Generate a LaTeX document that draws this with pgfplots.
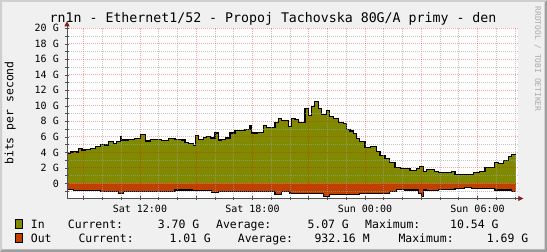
\documentclass[border=0pt]{standalone}
\usepackage{pgfplots}
\usepackage{pgfplotstable}
\pgfplotsset{compat=1.18}
\usepackage{fontspec}
\newfontfamily\dvm{DejaVu Sans Mono}
\usetikzlibrary{arrows.meta}

\definecolor{bgc}{HTML}{F0F0F0}
\definecolor{shadea}{HTML}{CFCFCF}
\definecolor{shadeb}{HTML}{9E9E9E}
\definecolor{incol}{RGB}{128,138,0}
\definecolor{outcol}{RGB}{192,64,0}
\definecolor{axcol}{RGB}{80,80,80}
\definecolor{arrcol}{RGB}{127,31,31}
\definecolor{mingrid}{RGB}{160,160,160}
\definecolor{wmark}{RGB}{170,170,170}

% In traffic (Gbit/s), hours since Sat 00:00
\pgfplotstableread{
h v
8.11 3.90
8.30 4.05
8.46 4.15
8.60 4.05
8.73 4.50
8.91 4.30
9.08 4.40
9.35 4.45
9.62 4.70
9.88 5.00
10.10 4.95
10.33 5.37
10.60 5.16
10.77 5.37
10.95 6.00
11.04 5.60
11.40 5.70
11.70 5.75
12.02 6.30
12.28 5.46
12.55 5.70
12.85 5.65
13.17 5.50
13.53 5.80
13.87 5.70
14.22 5.60
14.40 5.25
14.60 5.15
14.84 4.94
14.97 6.20
15.11 5.70
15.38 5.90
15.55 6.00
15.75 5.85
16.00 6.50
16.18 5.60
16.36 5.70
16.55 5.85
16.80 6.50
17.07 6.80
17.35 6.85
17.60 6.90
17.87 7.40
17.96 6.50
18.25 6.60
18.58 7.50
18.76 7.20
19.20 7.80
19.38 8.40
19.56 8.10
19.91 7.30
20.09 8.40
20.27 8.20
20.44 7.90
20.80 9.70
20.98 8.80
21.16 9.90
21.33 10.54
21.51 9.70
21.69 8.90
21.96 9.40
22.13 8.60
22.31 8.40
22.58 7.90
22.84 7.70
23.02 7.00
23.20 6.75
23.38 6.45
23.56 5.80
23.73 5.37
24.00 4.64
24.30 4.70
24.62 4.08
24.80 3.65
25.07 3.20
25.33 2.66
25.60 2.06
25.87 1.97
26.40 1.63
26.76 1.94
26.93 2.14
27.11 1.50
27.29 1.80
27.73 1.50
27.91 1.42
28.62 1.50
28.80 1.20
29.42 1.17
29.78 1.37
30.13 1.50
30.40 2.06
30.93 2.70
31.11 2.58
31.38 2.90
31.64 3.43
31.82 3.70
32.04 3.70
}\intab

% Out traffic (Gbit/s, drawn negative)
\pgfplotstableread{
h v
8.11 -0.77
8.46 -0.95
9.88 -1.08
10.40 -1.02
10.86 -1.29
11.13 -1.10
11.89 -1.05
12.46 -1.00
13.00 -1.05
13.87 -0.86
14.80 -0.90
15.82 -1.20
16.18 -1.00
17.00 -1.05
18.00 -1.00
19.20 -1.38
19.56 -1.10
20.00 -1.29
21.00 -1.25
21.78 -1.69
22.13 -1.38
23.20 -1.40
23.73 -1.29
24.50 -1.30
25.33 -1.08
25.69 -0.77
26.13 -0.86
26.84 -1.29
27.02 -1.69
27.11 -0.86
27.29 -0.90
27.91 -0.77
28.80 -0.65
29.33 -0.52
29.69 -0.65
30.93 -0.86
31.82 -1.08
32.04 -1.01
}\outtab

\begin{document}
\begin{tikzpicture}
\path[use as bounding box] (0,0) rectangle (547bp,252bp);
\fill[bgc] (0,0) rectangle (547bp,252bp);
\fill[shadea] (0,0) -- (0,252bp) -- (547bp,252bp) -- (545bp,250bp) -- (2bp,250bp) -- (2bp,2bp) -- cycle;
\fill[shadeb] (0,0) -- (547bp,0) -- (547bp,252bp) -- (544.5bp,249.5bp) -- (544.5bp,2.5bp) -- (2bp,2.5bp) -- cycle;
\fill[white] (67bp,53.5bp) rectangle (518bp,223.7bp);

\begin{axis}[
  at={(67bp,53.5bp)}, anchor=south west,
  scale only axis, width=451bp, height=170.2bp,
  xmin=8.11, xmax=32.16, ymin=-1.95, ymax=20,
  axis x line*=bottom, axis y line*=left,
  x axis line style={draw=axcol, line width=0.8bp, shorten >=-5.3bp,
    -{Triangle[length=5bp,width=5bp,color=arrcol,fill=arrcol]}},
  y axis line style={draw=axcol, line width=0.8bp, shorten >=-7bp,
    -{Triangle[length=5bp,width=5bp,color=arrcol,fill=arrcol]}},
  axis on top,
  xtick={9,12,15,18,21,24,27,30},
  xticklabels={,Sat 12:00,,Sat 18:00,,Sun 00:00,,Sun 06:00},
  minor xtick={10,11,13,14,16,17,19,20,22,23,25,26,28,29,31,32},
  ytick={0,2,4,6,8,10,12,14,16,18,20},
  yticklabels={0,2 G,4 G,6 G,8 G,10 G,12 G,14 G,16 G,18 G,20 G},
  minor ytick={-1,1,3,5,7,9,11,13,15,17,19},
  grid=both,
  major grid style={draw=red, opacity=0.35, dash pattern=on 1bp off 1bp, line width=0.8bp},
  minor grid style={draw=mingrid, opacity=0.6, dash pattern=on 1bp off 1bp, line width=0.8bp},
  tick align=center,
  major tick length=4bp, minor tick length=3bp,
  every tick/.style={draw=axcol, line width=0.6bp},
  ticklabel style={font=\dvm\fontsize{10bp}{12bp}\selectfont, text=black},
  yticklabel style={anchor=east, inner sep=0pt, xshift=-6bp},
  xticklabel style={anchor=north, inner sep=0pt, yshift=-4bp},
  clip=false,
]
\addplot[const plot, fill=incol, draw=none] table[x=h,y=v] {\intab} \closedcycle;
\addplot[const plot, fill=outcol, draw=none] table[x=h,y=v] {\outtab} \closedcycle;
\addplot[const plot, black, line width=1.1bp] table[x=h,y=v] {\intab};
\addplot[const plot, black, line width=1.1bp] table[x=h,y=v] {\outtab};
\end{axis}

% title
\node[font=\dvm\fontsize{13.25bp}{15bp}\selectfont, anchor=base west, inner sep=0pt, text depth=0pt]
  at (49.5bp,229.7bp) {rn1n - Ethernet1/52 - Propoj Tachovska 80G/A primy - den};
% y label
\node[rotate=90, anchor=base, inner sep=0pt, font=\dvm\fontsize{11.46bp}{13bp}\selectfont]
  at (13.3bp,139bp) {bits per second};
% watermark
\node[rotate=-90, anchor=base, inner sep=0pt, text=wmark, font=\dvm\fontsize{7.9bp}{9bp}\selectfont]
  at (535bp,193bp) {RRDTOOL / TOBI OETIKER};

% legend
\filldraw[fill=incol, draw=black, line width=0.8bp] (15.3bp,24bp) rectangle (22.6bp,32.3bp);
\filldraw[fill=outcol, draw=black, line width=0.8bp] (15.3bp,10bp) rectangle (22.6bp,18.3bp);
\begin{scope}[every node/.style={anchor=base west, inner sep=0pt, font=\dvm\fontsize{11.46bp}{13bp}\selectfont}]
\node at (30.7bp,24bp) {In};
\node at (67.7bp,24bp) {Current:};
\node at (157.7bp,24bp) {3.70 G};
\node at (216bp,24bp) {Average:};
\node at (307.3bp,24bp) {5.07 G};
\node at (365bp,24bp) {Maximum:};
\node at (450bp,24bp) {10.54 G};
\node at (30.7bp,10bp) {Out};
\node at (78.3bp,10bp) {Current:};
\node at (169.3bp,10bp) {1.01 G};
\node at (237.7bp,10bp) {Average:};
\node at (314.3bp,10bp) {932.16 M};
\node at (398.3bp,10bp) {Maximum:};
\node at (486.7bp,10bp) {1.69 G};
\end{scope}
\end{tikzpicture}
\end{document}
